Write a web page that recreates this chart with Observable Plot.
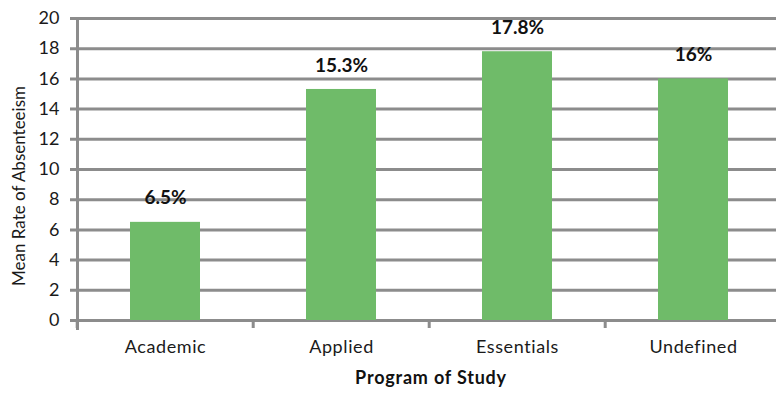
<!DOCTYPE html>
<html>
<head>
<meta charset="utf-8">
<script src="https://cdn.jsdelivr.net/npm/d3@7"></script>
<script src="https://cdn.jsdelivr.net/npm/@observablehq/plot@0.6"></script>
<style>
  html, body { margin: 0; padding: 0; background: #fff; }
  svg { display: block; }
</style>
</head>
<body>
<div id="chart"></div>
<script>
// Mean rate of absenteeism by program of study
const programs = ["Academic", "Applied", "Essentials", "Undefined"];
const rates = [6.5, 15.3, 17.8, 16];
const rateLabels = ["6.5%", "15.3%", "17.8%", "16%"];
const yTicks = [0, 2, 4, 6, 8, 10, 12, 14, 16, 18, 20];

const data = programs.map((p, i) => ({program: p, rate: rates[i], label: rateLabels[i]}));

const gridColor = "#8c8c8c";
const font = "Lato, 'Open Sans', sans-serif";

const chart = Plot.plot({
  width: 776,
  height: 394,
  marginTop: 18,
  marginBottom: 74,
  marginLeft: 77,
  marginRight: -5,
  style: {fontFamily: font, fontSize: "18px", color: "#1a1a1a", background: "#fff", overflow: "visible"},
  x: {domain: programs, paddingInner: 0.6, paddingOuter: 0.3, label: null},
  y: {domain: [0, 20], ticks: yTicks, label: null},
  marks: [
    Plot.ruleY(yTicks, {stroke: gridColor, strokeWidth: 3, insetLeft: -7, insetRight: 5}),
    Plot.frame({anchor: "left", stroke: gridColor, strokeWidth: 3, insetBottom: -8}),
    Plot.barY(data, {x: "program", y: "rate", fill: "#6fbb69"}),
    Plot.text(data, {
      x: "program", y: "rate", text: "label", dy: -24,
      fontWeight: "bold", fontSize: 19, fill: "#111"
    }),
    Plot.axisY({ticks: yTicks, tickSize: 0, tickPadding: 18, fontSize: 18}),
    Plot.axisX({tickSize: 0, tickPadding: 20, fontSize: 18})
  ]
});

// tick marks on the category axis at band boundaries
const xs = chart.scale("x");
const ys = chart.scale("y");
const y0 = ys.apply(0);
const edges = programs.map(p => xs.apply(p) - xs.step * xs.paddingInner / 2);
edges.push(xs.apply(programs[programs.length - 1]) + xs.bandwidth + xs.step * xs.paddingInner / 2);
const svg = d3.select(chart);
svg.selectAll("g[aria-label='x-axis tick label'] text").attr("letter-spacing", 0.6);
svg.append("g")
  .attr("stroke", gridColor)
  .attr("stroke-width", 3)
  .selectAll("line")
  .data(edges.filter(e => e <= 776))
  .join("line")
  .attr("x1", d => d).attr("x2", d => d)
  .attr("y1", y0).attr("y2", y0 + 8);

// axis titles
const [r0, r1] = ys.range;
svg.append("text")
  .attr("transform", `translate(25,${(r0 + r1) / 2 + 17}) rotate(-90)`)
  .attr("text-anchor", "middle")
  .style("font-family", font)
  .style("font-size", "17px")
  .attr("fill", "#1a1a1a")
  .text("Mean Rate of Absenteeism");
svg.append("text")
  .attr("x", (xs.range[0] + xs.range[1]) / 2 + 2)
  .attr("y", 384)
  .attr("text-anchor", "middle")
  .style("font-family", font)
  .style("font-size", "18px")
  .attr("font-weight", "bold")
  .attr("letter-spacing", 0.8)
  .attr("fill", "#111")
  .text("Program of Study");

document.getElementById("chart").appendChild(chart);
</script>
</body>
</html>
